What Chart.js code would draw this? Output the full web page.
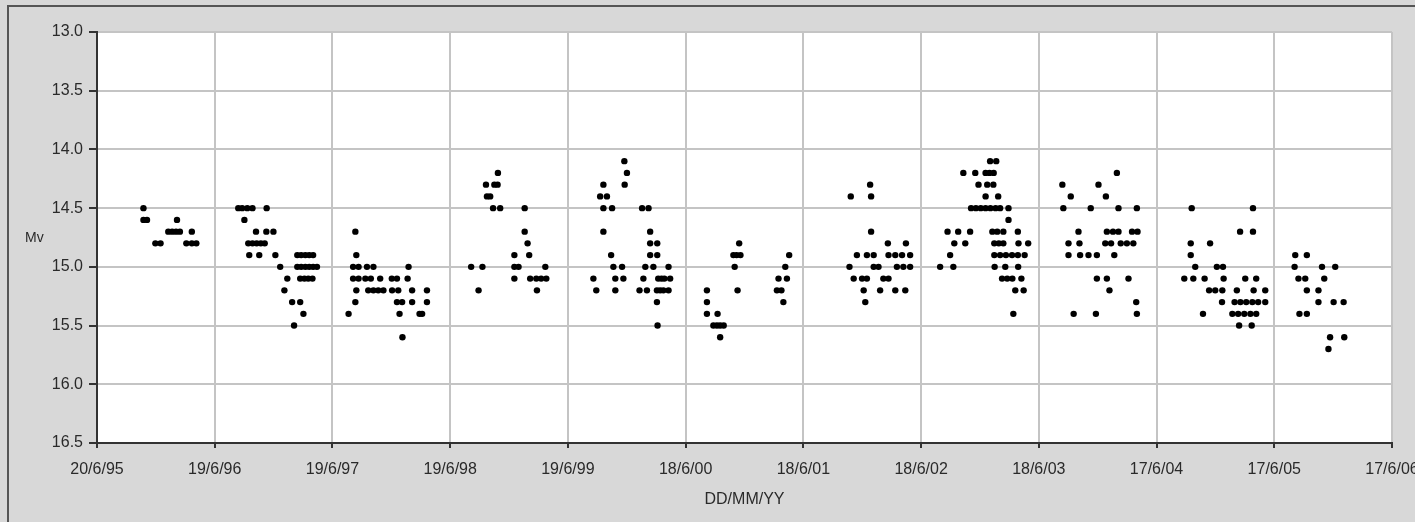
<!DOCTYPE html>
<html>
<head>
<meta charset="utf-8">
<title>Mv light curve</title>
<script src="https://cdn.jsdelivr.net/npm/chart.js@4"></script>
<style>
  html, body { margin: 0; padding: 0; background: #d9d9d9; }
  #wrap { width: 1415px; height: 522px; position: relative; }
</style>
</head>
<body>
<div id="wrap"><canvas id="lc"></canvas></div>
<script>
// x = days since 20/6/95, y = Mv
const season1995 = [[144,14.5],[144,14.6],[155,14.6],[181,14.8],[197,14.8],[221,14.7],[233,14.7],[245,14.7],[257,14.7],[248,14.6],[294,14.7],[277,14.8],[294,14.8],[308,14.8]];
const season1996 = [[438,14.5],[450,14.5],[466,14.5],[482,14.5],[526,14.5],[457,14.6],[493,14.7],[525,14.7],[547,14.7],
  [469,14.8],[482,14.8],[495,14.8],[508,14.8],[520,14.8],[472,14.9],[503,14.9],[553,14.9],[568,15.0],[590,15.1],[581,15.2],
  [605,15.3],[630,15.3],[640,15.4],[611,15.5],[621,14.9],[633,14.9],[646,14.9],[658,14.9],[670,14.9],
  [621,15.0],[633,15.0],[646,15.0],[658,15.0],[670,15.0],[682,15.0],[630,15.1],[643,15.1],[655,15.1],[668,15.1]];
const season1997 = [[801,14.7],[804,14.9],[794,15.0],[811,15.0],[837,15.0],[857,15.0],[794,15.1],[811,15.1],[832,15.1],
  [849,15.1],[878,15.1],[914,15.1],[930,15.1],[963,15.1],[966,15.0],[804,15.2],[841,15.2],[857,15.2],[872,15.2],[888,15.2],
  [915,15.2],[934,15.2],[977,15.2],[1023,15.2],[801,15.3],[930,15.3],[946,15.3],[977,15.3],[1023,15.3],[780,15.4],
  [938,15.4],[1000,15.4],[1008,15.4],[947,15.6]];
const season1998 = [[1160,15.0],[1195,15.0],[1183,15.2],[1243,14.2],[1206,14.3],[1232,14.3],[1242,14.3],[1209,14.4],
  [1219,14.4],[1228,14.5],[1250,14.5],[1326,14.5],[1326,14.7],[1335,14.8],[1294,14.9],[1340,14.9],[1294,15.0],[1307,15.0],
  [1390,15.0],[1294,15.1],[1343,15.1],[1362,15.1],[1377,15.1],[1393,15.1],[1364,15.2]];
const season1999 = [[1635,14.1],[1643,14.2],[1570,14.3],[1636,14.3],[1560,14.4],[1581,14.4],[1570,14.5],[1597,14.5],
  [1690,14.5],[1710,14.5],[1570,14.7],[1715,14.7],[1715,14.8],[1737,14.8],[1594,14.9],[1715,14.9],[1737,14.9],
  [1601,15.0],[1628,15.0],[1700,15.0],[1725,15.0],[1772,15.0],[1539,15.1],[1607,15.1],[1632,15.1],[1694,15.1],
  [1740,15.1],[1750,15.1],[1759,15.1],[1777,15.1],[1548,15.2],[1607,15.2],[1682,15.2],[1705,15.2],[1736,15.2],
  [1746,15.2],[1756,15.2],[1772,15.2],[1736,15.3],[1738,15.5]];
const season2000 = [[1891,15.2],[1891,15.3],[1891,15.4],[1924,15.4],[1911,15.5],[1922,15.5],[1932,15.5],[1943,15.5],
  [1932,15.6],[1991,14.8],[1973,14.9],[1983,14.9],[1995,14.9],[1977,15.0],[1986,15.2],[2146,14.9],[2134,15.0],
  [2113,15.1],[2139,15.1],[2108,15.2],[2122,15.2],[2128,15.3]];
const season2001 = [[2397,14.3],[2337,14.4],[2400,14.4],[2400,14.7],[2452,14.8],[2508,14.8],[2356,14.9],[2387,14.9],
  [2408,14.9],[2454,14.9],[2475,14.9],[2496,14.9],[2521,14.9],[2333,15.0],[2408,15.0],[2423,15.0],[2480,15.0],
  [2500,15.0],[2521,15.0],[2346,15.1],[2372,15.1],[2387,15.1],[2438,15.1],[2454,15.1],[2377,15.2],[2428,15.2],
  [2475,15.2],[2506,15.2],[2382,15.3]];
const season2002 = [[2769,14.1],[2788,14.1],[2686,14.2],[2723,14.2],[2755,14.2],[2767,14.2],[2780,14.2],[2733,14.3],
  [2760,14.3],[2779,14.3],[2755,14.4],[2794,14.4],[2710,14.5],[2725,14.5],[2740,14.5],[2755,14.5],[2770,14.5],
  [2786,14.5],[2800,14.5],[2826,14.5],[2826,14.6],[2637,14.7],[2670,14.7],[2707,14.7],[2776,14.7],[2791,14.7],
  [2810,14.7],[2855,14.7],[2658,14.8],[2692,14.8],[2782,14.8],[2796,14.8],[2810,14.8],[2857,14.8],[2887,14.8],
  [2645,14.9],[2782,14.9],[2800,14.9],[2818,14.9],[2837,14.9],[2855,14.9],[2876,14.9],[2614,15.0],[2655,15.0],
  [2783,15.0],[2816,15.0],[2856,15.0],[2806,15.1],[2822,15.1],[2838,15.1],[2866,15.1],[2847,15.2],[2873,15.2],
  [2841,15.4]];
const season2003 = [[3162,14.2],[2993,14.3],[3105,14.3],[3019,14.4],[3128,14.4],[2996,14.5],[3081,14.5],[3167,14.5],
  [3224,14.5],[3043,14.7],[3131,14.7],[3150,14.7],[3167,14.7],[3209,14.7],[3226,14.7],[3012,14.8],[3046,14.8],
  [3126,14.8],[3144,14.8],[3174,14.8],[3193,14.8],[3213,14.8],[3012,14.9],[3048,14.9],[3074,14.9],[3100,14.9],
  [3154,14.9],[3100,15.1],[3131,15.1],[3198,15.1],[3139,15.2],[3222,15.3],[3028,15.4],[3097,15.4],[3224,15.4]];
const season2004 = [[3394,14.5],[3584,14.5],[3544,14.7],[3584,14.7],[3391,14.8],[3451,14.8],[3391,14.9],[3405,15.0],
  [3472,15.0],[3491,15.0],[3371,15.1],[3399,15.1],[3434,15.1],[3493,15.1],[3560,15.1],[3594,15.1],
  [3448,15.2],[3467,15.2],[3489,15.2],[3534,15.2],[3586,15.2],[3622,15.2],[3488,15.3],[3527,15.3],[3545,15.3],
  [3563,15.3],[3582,15.3],[3600,15.3],[3622,15.3],[3429,15.4],[3520,15.4],[3538,15.4],[3557,15.4],[3576,15.4],
  [3594,15.4],[3541,15.5],[3580,15.5]];
const season2005 = [[3715,14.9],[3751,14.9],[3713,15.0],[3798,15.0],[3839,15.0],[3725,15.1],[3746,15.1],[3805,15.1],
  [3751,15.2],[3787,15.2],[3787,15.3],[3834,15.3],[3865,15.3],[3728,15.4],[3751,15.4],[3823,15.6],[3867,15.6],[3818,15.7]];

const xTickLabels = ['20/6/95','19/6/96','19/6/97','19/6/98','19/6/99','18/6/00','18/6/01','18/6/02','18/6/03','17/6/04','17/6/05','17/6/06'];
const xStepDays = 365;
const yTicks = [13.0, 13.5, 14.0, 14.5, 15.0, 15.5, 16.0, 16.5];

const allObs = [].concat(season1995, season1996, season1997, season1998, season1999, season2000,
  season2001, season2002, season2003, season2004, season2005);

const labelFont = { family: "'Liberation Sans', Arial, sans-serif", size: 16 };

// grey page, frame and white plot area
const backdrop = {
  id: 'backdrop',
  beforeDraw(chart) {
    const { ctx, chartArea: a, width, height } = chart;
    ctx.save();
    ctx.fillStyle = '#d8d8d8';
    ctx.fillRect(0, 0, width, height);
    ctx.strokeStyle = '#555';
    ctx.lineWidth = 2;
    ctx.beginPath();
    ctx.moveTo(8, height);
    ctx.lineTo(8, 6);
    ctx.lineTo(width, 6);
    ctx.stroke();
    ctx.fillStyle = '#fff';
    ctx.fillRect(a.left, a.top, a.right - a.left, a.bottom - a.top);
    ctx.restore();
  },
  afterDraw(chart) {
    const ctx = chart.ctx;
    ctx.save();
    ctx.font = "14px 'Liberation Sans', Arial, sans-serif";
    ctx.fillStyle = '#2a2a2a';
    ctx.textBaseline = 'middle';
    ctx.fillText('Mv', 25, 238);
    ctx.restore();
  }
};

new Chart(document.getElementById('lc'), {
  type: 'scatter',
  data: {
    datasets: [{
      label: 'Mv',
      data: allObs.map(p => ({ x: p[0], y: p[1] })),
      backgroundColor: '#000',
      borderWidth: 0,
      pointRadius: 3.2,
      pointHoverRadius: 3.2
    }]
  },
  options: {
    responsive: true,
    maintainAspectRatio: false,
    animation: false,
    events: [],
    layout: { padding: { top: 32, right: 23, left: 0, bottom: 0 } },
    plugins: { legend: { display: false }, tooltip: { enabled: false } },
    scales: {
      x: {
        type: 'linear',
        min: 0,
        max: xStepDays * (xTickLabels.length - 1),
        afterFit(scale) { scale.height = 79; scale.paddingLeft = 0; scale.paddingRight = 0; },
        ticks: {
          stepSize: xStepDays,
          autoSkip: false,
          maxRotation: 0,
          padding: 12,
          color: '#2a2a2a',
          font: labelFont,
          callback: (v, i) => xTickLabels[i]
        },
        grid: { color: '#c4c4c4', lineWidth: 2, tickLength: 5, tickColor: '#333', tickWidth: 2 },
        border: { color: '#333', width: 2 },
        title: { display: true, text: 'DD/MM/YY', color: '#2a2a2a', font: labelFont, padding: { top: 0, bottom: 13 } }
      },
      y: {
        reverse: true,
        min: yTicks[0],
        max: yTicks[yTicks.length - 1],
        afterFit(scale) { scale.width = 97; },
        ticks: {
          stepSize: 0.5,
          padding: 6,
          color: '#2a2a2a',
          font: labelFont,
          callback: v => v.toFixed(1)
        },
        grid: { color: '#c4c4c4', lineWidth: 2, tickLength: 8, tickColor: '#333', tickWidth: 2 },
        border: { color: '#333', width: 2 }
      }
    }
  },
  plugins: [backdrop]
});
</script>
</body>
</html>
